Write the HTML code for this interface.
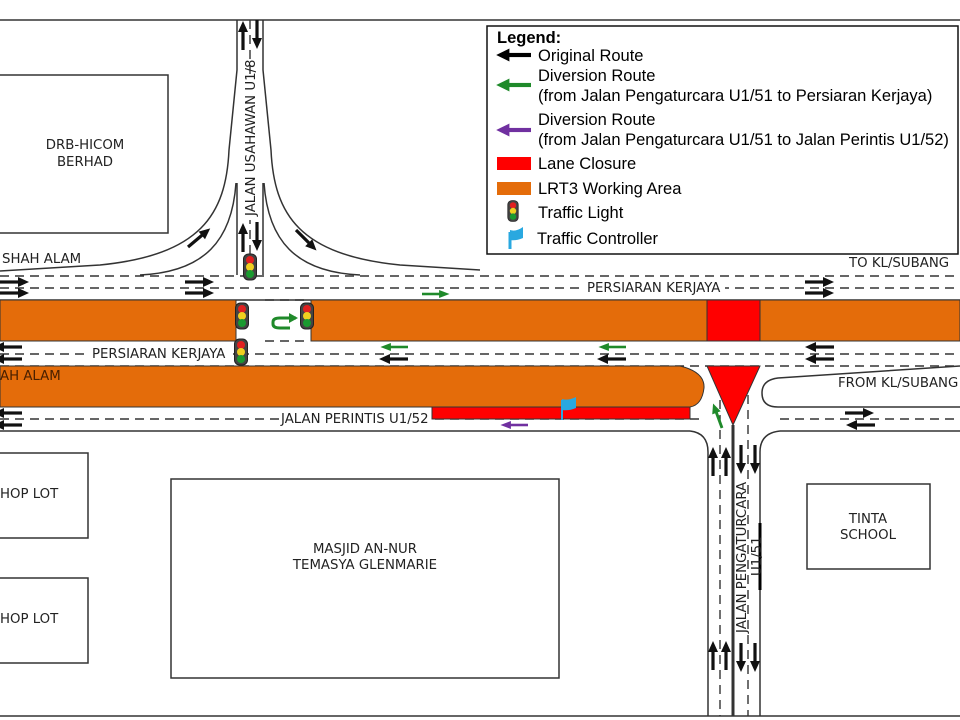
<!DOCTYPE html>
<html><head><meta charset="utf-8"><style>
html,body{margin:0;padding:0;background:#fff;width:960px;height:720px;overflow:hidden}
svg{display:block}
text{font-family:"DejaVu Sans","Liberation Sans",sans-serif;fill:#222}
.l{font-family:"Liberation Sans",sans-serif;font-size:16.5px;fill:#000}
</style></head><body>
<svg width="960" height="720" viewBox="0 0 960 720" xmlns="http://www.w3.org/2000/svg">
<defs>
<g id="ar"><rect x="0" y="-1.6" width="20" height="3.2"/><polygon points="18,-5 29,0 18,5"/></g>
<g id="tl"><rect x="-6.5" y="-13" width="13" height="26" rx="5" fill="#444" stroke="#222"/><circle cx="0" cy="-7" r="4" fill="#e02020"/><circle cx="0" cy="0" r="4" fill="#f0d020"/><circle cx="0" cy="7" r="4" fill="#1a9a30"/></g>
</defs>
<g fill="none" stroke="#333" stroke-width="1.5">
<line x1="0" y1="20" x2="960" y2="20"/>
<line x1="0" y1="716" x2="960" y2="716"/>
<path d="M237,20 L237,70 L229,150 C226,215 200,255 100,265 L0,271"/>
<path d="M263,20 L263,70 L271,150 C274,215 300,255 400,265 L480,270"/>
<path d="M237,183 L237,275 M263,183 L263,275"/>
<path d="M236,183 C232,240 205,272 140,275 M264,183 C268,240 295,272 360,275"/>
<line x1="0" y1="300" x2="960" y2="300"/>
<line x1="0" y1="431" x2="690" y2="431"/>
<path d="M690,431 Q708,433 708,452 L708,716"/>
<path d="M780,431 Q760,433 760,452 L760,716"/>
<line x1="780" y1="431" x2="960" y2="431"/>
<path d="M960,366 L778,378 Q762,380 762,393 Q762,407 778,407 L960,407"/>
<line x1="733" y1="425" x2="733" y2="716" stroke-width="3"/>
<line x1="760" y1="523" x2="760" y2="590" stroke="#000" stroke-width="3"/>
</g>
<g fill="none" stroke="#333" stroke-width="1.4" stroke-dasharray="9,6">
<line x1="0" y1="276" x2="960" y2="276"/>
<line x1="0" y1="288" x2="960" y2="288"/>
<line x1="0" y1="354" x2="960" y2="354"/>
<line x1="0" y1="366" x2="960" y2="366"/>
<line x1="0" y1="419" x2="700" y2="419"/>
<line x1="780" y1="419" x2="960" y2="419"/>
<line x1="250" y1="20" x2="250" y2="255"/>
<line x1="720" y1="400" x2="720" y2="716"/>
<line x1="748" y1="395" x2="748" y2="716"/>
<line x1="265" y1="300" x2="310" y2="300"/>
<line x1="265" y1="341" x2="310" y2="341"/>
</g>
<g stroke="#333" stroke-width="1">
<rect x="0" y="300" width="236" height="41" fill="#E46C0A"/>
<rect x="311" y="300" width="396" height="41" fill="#E46C0A"/>
<rect x="760" y="300" width="200" height="41" fill="#E46C0A"/>
<rect x="707" y="300" width="53" height="41" fill="#FF0000"/>
<path d="M0,366 L680,366 Q705,372 704,388 Q702,405 690,407 L0,407 Z" fill="#E46C0A"/>
<rect x="432" y="407" width="258" height="12" fill="#FF0000"/>
<polygon points="707,366 760,366 733,425" fill="#FF0000"/>
</g>
<g fill="none" stroke="#333" stroke-width="1.5">
<rect x="-2" y="75" width="170" height="158"/>
<rect x="-2" y="453" width="90" height="85"/>
<rect x="-2" y="578" width="90" height="85"/>
<rect x="171" y="479" width="388" height="199"/>
<rect x="807" y="484" width="123" height="85"/>
<rect x="487" y="26" width="471" height="228" stroke="#111"/>
</g>
<g fill="#fff">
<rect x="90" y="346" width="143" height="15"/>
<rect x="585" y="280" width="140" height="15"/>
<rect x="279" y="411" width="152" height="15"/>
<rect x="243" y="80" width="14" height="140"/>
<rect x="735" y="485" width="12" height="150"/>
</g>
<g font-size="13.3">
<text x="2" y="263">SHAH ALAM</text>
<text x="92" y="358">PERSIARAN KERJAYA</text>
<text x="587" y="292">PERSIARAN KERJAYA</text>
<text x="0" y="380" style="fill:#4a2000">AH ALAM</text>
<text x="281" y="423">JALAN PERINTIS U1/52</text>
<text x="849" y="267">TO KL/SUBANG</text>
<text x="838" y="387">FROM KL/SUBANG</text>
<text x="85" y="149" text-anchor="middle">DRB-HICOM</text>
<text x="85" y="166" text-anchor="middle">BERHAD</text>
<text x="0" y="498">HOP LOT</text>
<text x="0" y="623">HOP LOT</text>
<text x="365" y="553" text-anchor="middle">MASJID AN-NUR</text>
<text x="365" y="569" text-anchor="middle">TEMASYA GLENMARIE</text>
<text x="868" y="523" text-anchor="middle">TINTA</text>
<text x="868" y="539" text-anchor="middle">SCHOOL</text>
<text transform="translate(255,216) rotate(-90)">JALAN USAHAWAN U1/8</text>
<text transform="translate(746,633) rotate(-90)">JALAN PENGATURCARA</text>
<text transform="translate(761,576) rotate(-90)">U1/51</text>
</g>
<g fill="#111">
<use href="#ar" transform="translate(0,282)"/><use href="#ar" transform="translate(0,293)"/>
<use href="#ar" transform="translate(185,282)"/><use href="#ar" transform="translate(185,293)"/>
<use href="#ar" transform="translate(805,282)"/><use href="#ar" transform="translate(805,293)"/>
<use href="#ar" transform="translate(22,347) rotate(180)"/><use href="#ar" transform="translate(22,359) rotate(180)"/>
<use href="#ar" transform="translate(408,359) rotate(180)"/>
<use href="#ar" transform="translate(626,359) rotate(180)"/>
<use href="#ar" transform="translate(834,347) rotate(180)"/><use href="#ar" transform="translate(834,359) rotate(180)"/>
<use href="#ar" transform="translate(22,413) rotate(180)"/><use href="#ar" transform="translate(22,425) rotate(180)"/>
<use href="#ar" transform="translate(845,413)"/><use href="#ar" transform="translate(875,425) rotate(180)"/>
<use href="#ar" transform="translate(243,50) rotate(-90)"/><use href="#ar" transform="translate(257,20) rotate(90)"/>
<use href="#ar" transform="translate(243,252) rotate(-90)"/><use href="#ar" transform="translate(257,222) rotate(90)"/>
<use href="#ar" transform="translate(188,247) rotate(-40)"/>
<use href="#ar" transform="translate(296,230) rotate(45)"/>
<use href="#ar" transform="translate(713,476) rotate(-90)"/><use href="#ar" transform="translate(726,476) rotate(-90)"/>
<use href="#ar" transform="translate(741,445) rotate(90)"/><use href="#ar" transform="translate(755,445) rotate(90)"/>
<use href="#ar" transform="translate(713,670) rotate(-90)"/><use href="#ar" transform="translate(726,670) rotate(-90)"/>
<use href="#ar" transform="translate(741,643) rotate(90)"/><use href="#ar" transform="translate(755,643) rotate(90)"/>
</g>
<g fill="#1f8a2a">
<use href="#ar" transform="translate(422,294) scale(0.95,0.8)"/>
<use href="#ar" transform="translate(408,347) rotate(180) scale(0.95,0.8)"/>
<use href="#ar" transform="translate(626,347) rotate(180) scale(0.95,0.8)"/>
<use href="#ar" transform="translate(722,428) rotate(-110) scale(0.9,0.9)"/>
<path d="M296,318 L280,318 Q273,318 273,322 L273,324 Q273,328 280,328 L290,328" fill="none" stroke="#1f8a2a" stroke-width="3"/>
<polygon points="289,313 298,318 289,323"/>
</g>
<g fill="#7030a0"><use href="#ar" transform="translate(528,425) rotate(180) scale(0.95,0.8)"/></g>
<use href="#tl" transform="translate(250,267)"/>
<use href="#tl" transform="translate(242,316)"/>
<use href="#tl" transform="translate(307,316)"/>
<use href="#tl" transform="translate(241,352)"/>
<g><line x1="562" y1="400" x2="562" y2="420" stroke="#29a8e0" stroke-width="2"/><path d="M562,399 Q568,401 576,397 L576,408 Q569,411 562,410 Z" fill="#29a8e0"/></g>
<text class="l" x="497" y="43" style="font-weight:bold">Legend:</text>
<g fill="#000"><use href="#ar" transform="translate(531,55) rotate(180) scale(1.2,1.3)"/></g>
<g fill="#1f8a2a"><use href="#ar" transform="translate(531,85) rotate(180) scale(1.2,1.3)"/></g>
<g fill="#7030a0"><use href="#ar" transform="translate(531,130) rotate(180) scale(1.2,1.3)"/></g>
<rect x="497" y="157" width="34" height="13" fill="#FF0000"/>
<rect x="497" y="182" width="34" height="13" fill="#E46C0A"/>
<use href="#tl" transform="translate(513,211) scale(0.8)"/>
<g><line x1="510" y1="232" x2="510" y2="249" stroke="#29a8e0" stroke-width="3"/><path d="M510,230 Q516,232 523,227 L523,238 Q516,241 510,240 Z" fill="#29a8e0"/></g>
<text class="l" x="538" y="61">Original Route</text>
<text class="l" x="538" y="81">Diversion Route</text>
<text class="l" x="538" y="101">(from Jalan Pengaturcara U1/51 to Persiaran Kerjaya)</text>
<text class="l" x="538" y="125">Diversion Route</text>
<text class="l" x="538" y="145">(from Jalan Pengaturcara U1/51 to Jalan Perintis U1/52)</text>
<text class="l" x="538" y="169">Lane Closure</text>
<text class="l" x="538" y="194">LRT3 Working Area</text>
<text class="l" x="538" y="218">Traffic Light</text>
<text class="l" x="537" y="244">Traffic Controller</text>
</svg>
</body></html>
